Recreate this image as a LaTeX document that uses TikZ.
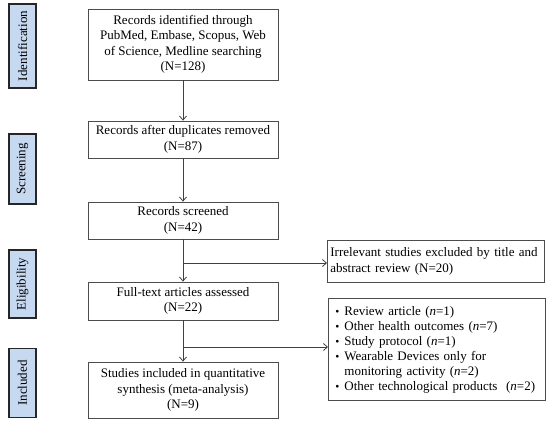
\documentclass[tikz,border=0pt]{standalone}
\usepackage{fontspec}
\setmainfont{Liberation Serif}
\usetikzlibrary{arrows.meta,positioning}
\definecolor{labelblue}{RGB}{198,217,241}
\newcommand{\bul}{\hspace*{4pt}\makebox[9pt][l]{\fontsize{11.5}{15}\selectfont\textbullet}}
\begin{document}
\begin{tikzpicture}[x=1pt,y=-1pt,
  lbl/.style={draw=black!85,line width=1.6pt,fill=labelblue,minimum height=27pt,rotate=90,inner sep=0pt,font=\fontsize{13}{15}\selectfont},
  mainbox/.style={draw=black!70,line width=0.8pt,minimum width=190pt,align=center,inner sep=2pt,font=\fontsize{13}{15.5}\selectfont},
  sidebox/.style={draw=black!70,line width=0.8pt,minimum width=217pt,align=left,inner sep=3pt,font=\fontsize{13}{15.5}\selectfont,anchor=north west},
  arr/.style={draw=black!75,line width=0.8pt,-{Straight Barb[length=4pt,width=7pt]}}
]
\useasboundingbox (0,0) rectangle (550,424);
% side labels
\node[lbl,minimum width=84pt] (lid) at (22.5,46) {Identification};
\node[lbl,minimum width=70pt] (lsc) at (22.5,169) {Screening};
\node[lbl,minimum width=68pt] (lel) at (22.5,284) {Eligibility};
\node[lbl,minimum width=69pt] (lin) at (22.5,383) {Included};
% main boxes
\node[mainbox,minimum height=71pt] (b1) at (183,44.5) {Records identified through\\PubMed, Embase, Scopus, Web\\of Science, Medline searching\\(N=128)};
\node[mainbox,minimum height=37pt] (b2) at (183,139.5) {Records after duplicates removed\\(N=87)};
\node[mainbox,minimum height=37pt] (b3) at (183,220.5) {Records screened\\(N=42)};
\node[mainbox,minimum height=38pt] (b4) at (183,301) {Full-text articles assessed\\(N=22)};
\node[mainbox,minimum height=56pt] (b5) at (183,390) {Studies included in quantitative\\synthesis (meta-analysis)\\(N=9)};
% side boxes
\node[sidebox,minimum height=42pt,text width=211pt] (s1) at (327,240) {Irrelevant studies excluded by title and\\abstract review (N=20)};
\node[sidebox,minimum height=102pt,text width=211pt,font=\fontsize{13}{15}\selectfont] (s2) at (328,298) {%
\bul Review article (\textit{n}=1)\\
\bul Other health outcomes (\textit{n}=7)\\
\bul Study protocol (\textit{n}=1)\\
\bul Wearable Devices only for\\
\hspace*{13pt}monitoring activity (\textit{n}=2)\\
\bul Other technological products\ \ (\textit{n}=2)};
% connectors
\draw[arr] (b1) -- (b2);
\draw[arr] (b2) -- (b3);
\draw[arr] (b3) -- (b4);
\draw[arr] (b4) -- (b5);
\coordinate (j1) at (183,263);
\coordinate (j2) at (183,347);
\draw[arr] (j1) -- (j1 -| s1.west);
\draw[arr] (j2) -- (j2 -| s2.west);
\end{tikzpicture}
\end{document}
